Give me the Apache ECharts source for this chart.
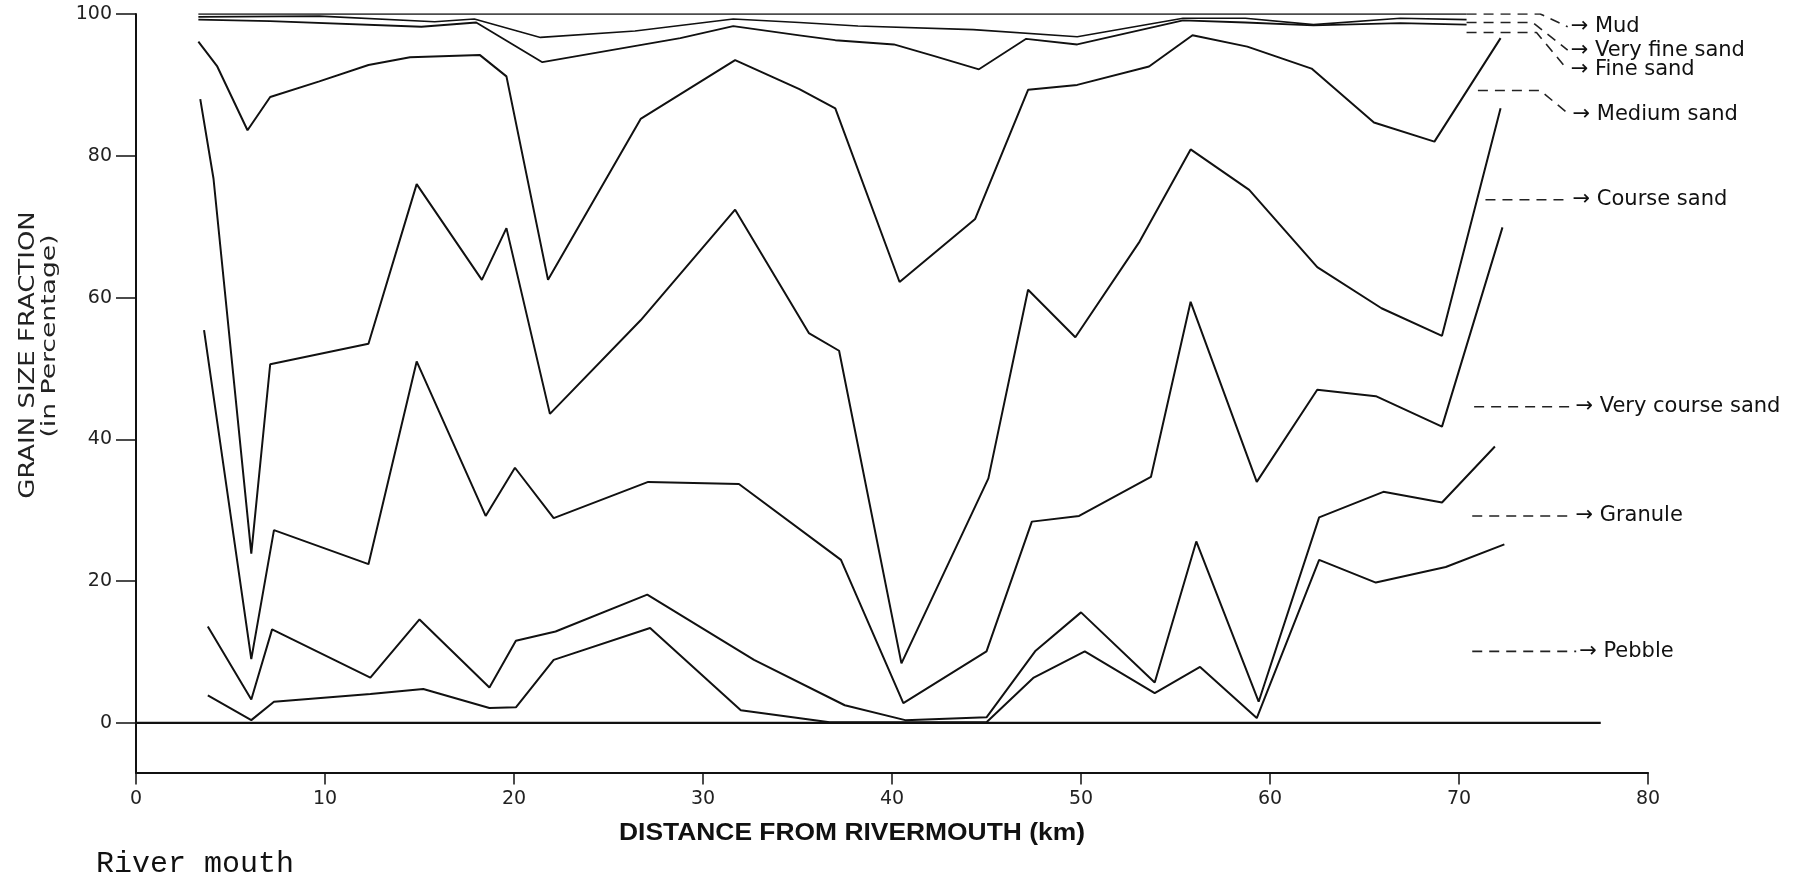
<!DOCTYPE html>
<html>
<head>
<meta charset="utf-8">
<title>Grain size fractions vs distance from river mouth</title>
<script src="https://cdn.jsdelivr.net/npm/echarts@6/dist/echarts.min.js"></script>
<style>
  html, body { margin: 0; padding: 0; background: #fff; }
  #chart { width: 1805px; height: 880px; }
</style>
</head>
<body>
<div id="chart"></div>
<script>
// Cumulative grain-size boundaries: [distance from river mouth (km), cumulative %]
const mudTop = [[3.3, 100], [70.4, 100]];
const veryFineTop = [[3.3, 99.6], [9.7, 99.7], [15.8, 98.9], [17.9, 99.3], [21.4, 96.7], [26.4, 97.6], [31.6, 99.3], [35.1, 98.8], [38.2, 98.3], [44.3, 97.8], [49.8, 96.8], [55.4, 99.4], [58.7, 99.4], [62.3, 98.5], [66.9, 99.4], [70.4, 99.2]];
const fineTop = [[3.3, 99.2], [7.1, 99.0], [15.1, 98.2], [18.0, 98.8], [21.5, 93.2], [28.8, 96.6], [31.6, 98.3], [35.1, 97.0], [37.0, 96.3], [40.1, 95.7], [42.2, 94.1], [44.6, 92.2], [47.1, 96.5], [49.8, 95.7], [55.4, 99.1], [58.7, 98.8], [62.3, 98.4], [66.9, 98.7], [70.4, 98.5]];
const mediumTop = [[3.3, 96.1], [4.3, 92.6], [5.9, 83.6], [7.1, 88.3], [9.7, 90.5], [12.3, 92.8], [14.5, 93.9], [18.2, 94.2], [19.6, 91.2], [21.8, 62.5], [26.7, 85.2], [31.7, 93.5], [35.1, 89.4], [37.0, 86.7], [40.4, 62.2], [44.4, 71.1], [47.2, 89.3], [49.8, 90.0], [53.6, 92.6], [55.9, 97.0], [58.8, 95.4], [62.2, 92.3], [65.5, 84.7], [68.7, 82.0], [72.2, 96.6]];
const coarseTop = [[3.4, 88.0], [4.1, 76.8], [6.1, 23.9], [7.1, 50.6], [12.3, 53.5], [14.85, 76.0], [18.3, 62.5], [19.6, 69.8], [21.9, 43.6], [26.7, 56.8], [31.7, 72.4], [35.6, 55.0], [37.2, 52.5], [40.5, 8.4], [45.1, 34.5], [47.2, 61.1], [49.7, 54.4], [53.1, 67.9], [55.8, 80.9], [58.9, 75.2], [62.5, 64.3], [65.9, 58.5], [69.1, 54.6], [72.2, 86.7]];
const veryCoarseTop = [[3.6, 55.4], [6.1, 9.0], [7.3, 27.2], [12.3, 22.4], [14.85, 51.0], [18.5, 29.2], [20.05, 36.0], [22.1, 28.9], [27.1, 34.0], [31.9, 33.7], [37.3, 23.0], [40.6, 2.8], [45.0, 10.1], [47.4, 28.4], [49.9, 29.2], [53.7, 34.7], [55.8, 59.4], [59.3, 34.0], [62.5, 47.0], [65.6, 46.1], [69.1, 41.8], [72.3, 69.9]];
const granuleTop = [[3.8, 13.6], [6.1, 3.3], [7.2, 13.2], [12.4, 6.4], [15.0, 14.6], [18.7, 5.0], [20.1, 11.6], [22.2, 12.9], [27.05, 18.1], [32.7, 8.9], [37.5, 2.5], [40.7, 0.4], [45.0, 0.8], [47.6, 10.2], [50.0, 15.6], [53.9, 5.7], [56.1, 25.6], [59.4, 3.0], [62.6, 29.0], [66.0, 32.6], [69.1, 31.1], [71.9, 39.0]];
const pebbleTop = [[3.8, 3.9], [6.1, 0.4], [7.3, 3.0], [12.4, 4.1], [15.2, 4.8], [18.7, 2.1], [20.1, 2.2], [22.1, 8.9], [27.2, 13.4], [32.0, 1.8], [36.7, 0.1], [45.0, 0.1], [47.5, 6.4], [50.2, 10.1], [53.9, 4.2], [56.3, 7.9], [59.3, 0.7], [62.6, 23.0], [65.6, 19.8], [69.3, 22.0], [72.4, 25.2]];
const baseline = [[0, 0], [77.5, 0]];

// Axis ticks
const xTickStep = 10;
const yTickValues = [0, 20, 40, 60, 80, 100];

// Fraction names, top to bottom
const fractionNames = ['Mud', 'Very fine sand', 'Fine sand', 'Medium sand', 'Course sand', 'Very course sand', 'Granule', 'Pebble'];

// Dashed leader paths from the line ends to each fraction name (km, %)
const leaderPaths = [
  [[70.4, 100], [74.3, 100], [75.75, 98.2]],
  [[70.4, 98.8], [73.9, 98.8], [75.75, 94.9]],
  [[70.4, 97.4], [74.1, 97.4], [75.75, 92.1]],
  [[71.0, 89.2], [74.3, 89.2], [75.85, 85.8]],
  [[71.4, 73.8], [75.85, 73.8]],
  [[70.8, 44.6], [76.0, 44.6]],
  [[70.7, 29.2], [76.0, 29.2]],
  [[70.7, 10.1], [76.2, 10.1]]
];

const INK = '#111';
const FONT = '"DejaVu Sans", sans-serif';

function boundary(data, width) {
  return {
    type: 'line', data: data, symbol: 'none', showSymbol: false, silent: true,
    lineStyle: { color: INK, width: width }, z: 3
  };
}

const series = [
  boundary(mudTop, 1.6),
  boundary(veryFineTop, 1.6),
  boundary(fineTop, 1.8),
  boundary(mediumTop, 2),
  boundary(coarseTop, 2),
  boundary(veryCoarseTop, 2),
  boundary(granuleTop, 2),
  boundary(pebbleTop, 2),
  boundary(baseline, 2.2)
];

leaderPaths.forEach(function (path, i) {
  series.push({
    type: 'line', data: path, symbol: 'none', showSymbol: false, silent: true,
    lineStyle: { color: '#222', width: 1.6, type: [10, 7] },
    endLabel: {
      show: true, formatter: '\u2192 ' + fractionNames[i], distance: 3,
      color: INK, fontFamily: FONT, fontSize: 21
    },
    z: 2
  });
});

const chart = echarts.init(document.getElementById('chart'), null, { renderer: 'canvas' });
chart.setOption({
  animation: false,
  backgroundColor: '#fff',
  grid: { left: 136, right: 157, top: 14, bottom: 107.4, containLabel: false, outerBoundsMode: 'none' },
  xAxis: {
    type: 'value', min: 0, max: 80, interval: xTickStep,
    axisLine: { onZero: false, lineStyle: { color: INK, width: 2 } },
    axisTick: { length: 12, lineStyle: { color: INK, width: 1.5 } },
    axisLabel: { margin: 17, fontFamily: FONT, fontSize: 19, color: '#222' },
    splitLine: { show: false }
  },
  yAxis: {
    type: 'value', min: -7, max: 100,
    axisLine: { show: true, onZero: false, lineStyle: { color: INK, width: 2 } },
    axisTick: { show: true, length: 20, customValues: yTickValues, lineStyle: { color: INK, width: 1.5 } },
    axisLabel: { customValues: yTickValues, margin: 24, fontFamily: FONT, fontSize: 19, color: '#222' },
    splitLine: { show: false }
  },
  graphic: [
    {
      type: 'text', x: 28, y: 355, rotation: Math.PI / 2, scaleX: 1.18,
      style: { text: 'GRAIN SIZE FRACTION', fontFamily: FONT, fontSize: 22, fill: '#222', textAlign: 'center', textVerticalAlign: 'middle' }
    },
    {
      type: 'text', x: 50, y: 336, rotation: Math.PI / 2, scaleX: 1.4,
      style: { text: '(in Percentage)', fontFamily: FONT, fontSize: 19, fill: '#222', textAlign: 'center', textVerticalAlign: 'middle' }
    },
    {
      type: 'text', x: 852, y: 833, scaleX: 1.1,
      style: { text: 'DISTANCE FROM RIVERMOUTH (km)', fontFamily: '"Liberation Sans", Arial, sans-serif', fontWeight: 'bold', fontSize: 24, fill: INK, textAlign: 'center', textVerticalAlign: 'middle' }
    },
    {
      type: 'text', x: 96, y: 864,
      style: { text: 'River mouth', fontFamily: '"Liberation Mono", monospace', fontSize: 30, fill: INK, textAlign: 'left', textVerticalAlign: 'middle' }
    }
  ],
  series: series
});
</script>
</body>
</html>
